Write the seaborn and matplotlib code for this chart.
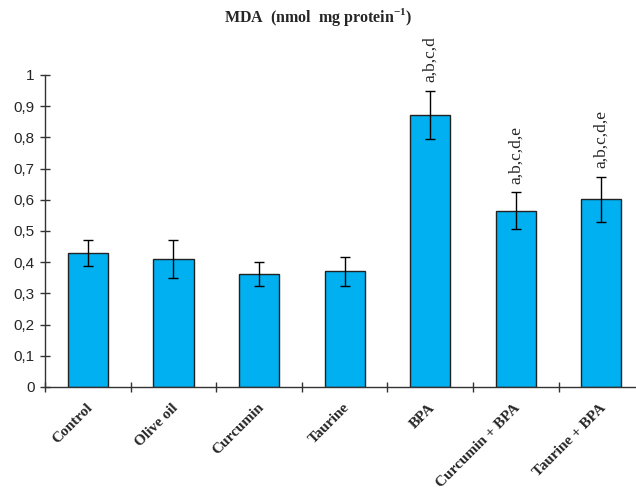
import matplotlib
matplotlib.use("Agg")
import matplotlib.pyplot as plt
import seaborn as sns
import pandas as pd
import numpy as np

# values
groups = ["Control", "Olive oil", "Curcumin", "Taurine", "BPA",
          "Curcumin + BPA", "Taurine + BPA"]
mda = [0.43, 0.41, 0.362, 0.371, 0.872, 0.565, 0.602]
mda_err = [0.042, 0.062, 0.038, 0.046, 0.077, 0.06, 0.072]
letters = ["", "", "", "", "a,b,c,d", "a,b,c,d,e", "a,b,c,d,e"]
y_ticks = [0, 0.1, 0.2, 0.3, 0.4, 0.5, 0.6, 0.7, 0.8, 0.9, 1]
y_labels = ["0", "0,1", "0,2", "0,3", "0,4", "0,5", "0,6", "0,7", "0,8", "0,9", "1"]

sns.set_style("ticks")
plt.rcParams["mathtext.fontset"] = "custom"
plt.rcParams["mathtext.bf"] = "Liberation Serif:bold"
plt.rcParams["mathtext.rm"] = "Liberation Serif"

df = pd.DataFrame({"group": groups, "mda": mda})

fig = plt.figure(figsize=(6.36, 4.94), dpi=100)
ax = fig.add_axes([0.071, 0.2166, 0.935, 0.6316])

sns.barplot(data=df, x="group", y="mda", color="#00b0f0", saturation=1,
            width=0.47, edgecolor="#222222", linewidth=1.0, ax=ax)
ax.errorbar(np.arange(len(groups)), mda, yerr=mda_err, fmt="none",
            ecolor="black", elinewidth=1.0, capsize=3.5, capthick=1.0)

for i, (v, e, lab) in enumerate(zip(mda, mda_err, letters)):
    if lab:
        ax.text(i, v + e + 0.027, lab, rotation=90, ha="center", va="bottom",
                fontsize=12.5, family="Liberation Serif")

ax.set_xlim(-0.5, 6.45)
ax.set_ylim(0, 1)
ax.set_yticks(y_ticks)
ax.set_yticklabels(y_labels, family="Liberation Sans", fontsize=11)
ax.set_xticks(np.arange(-0.5, 6.5, 1.0))
ax.set_xticklabels([])
ax.tick_params(axis="both", direction="inout", length=7, width=1, color="#333333")
ax.tick_params(axis="y", pad=4)

# rotated group names under the bars
for i, g in enumerate(groups):
    ax.text(i - 0.025, -0.045, g, rotation=45, ha="right", va="top",
            rotation_mode="anchor", fontsize=11, fontweight="bold",
            family="Liberation Serif", transform=ax.transData)

for s in ["top", "right"]:
    ax.spines[s].set_visible(False)
for s in ["left", "bottom"]:
    ax.spines[s].set_color("#333333")
    ax.spines[s].set_linewidth(1.0)
ax.set_xlabel("")
ax.set_ylabel("")

fig.text(0.5, 0.965, r"MDA  (nmol  mg protein$^{\mathbf{-1}}$)", ha="center", va="center",
         fontsize=11.5, fontweight="bold", family="Liberation Serif")

fig.savefig("out.png", dpi=100)
